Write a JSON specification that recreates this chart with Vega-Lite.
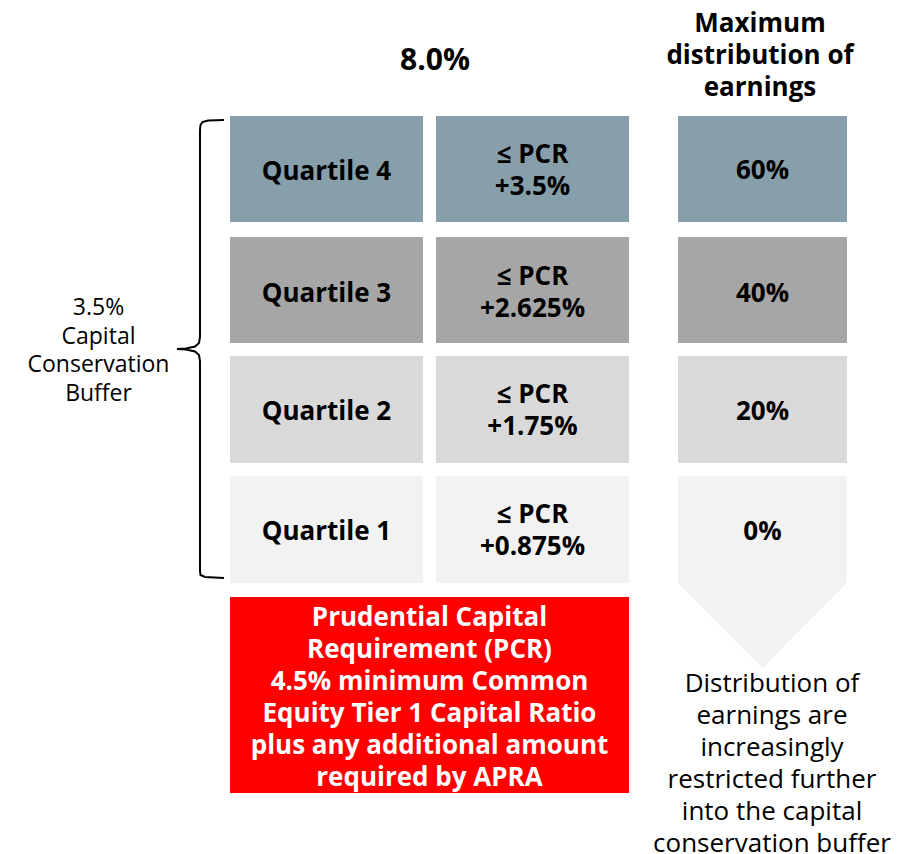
{
  "$schema": "https://vega.github.io/schema/vega-lite/v6.json",
  "width": 908,
  "height": 854,
  "padding": 0,
  "autosize": "none",
  "background": "white",
  "config": {"view": {"stroke": null}},
  "datasets": {
    "boxes": [
      {"tier": "Q4", "x0": 230, "x1": 423, "y0": 116, "y1": 222},
      {"tier": "Q4", "x0": 436, "x1": 629, "y0": 116, "y1": 222},
      {"tier": "Q4", "x0": 678, "x1": 847, "y0": 116, "y1": 222},
      {"tier": "Q3", "x0": 230, "x1": 423, "y0": 237, "y1": 343},
      {"tier": "Q3", "x0": 436, "x1": 629, "y0": 237, "y1": 343},
      {"tier": "Q3", "x0": 678, "x1": 847, "y0": 237, "y1": 343},
      {"tier": "Q2", "x0": 230, "x1": 423, "y0": 356, "y1": 463},
      {"tier": "Q2", "x0": 436, "x1": 629, "y0": 356, "y1": 463},
      {"tier": "Q2", "x0": 678, "x1": 847, "y0": 356, "y1": 463},
      {"tier": "Q1", "x0": 230, "x1": 423, "y0": 476, "y1": 583},
      {"tier": "Q1", "x0": 436, "x1": 629, "y0": 476, "y1": 583},
      {"tier": "PCR", "x0": 230, "x1": 629, "y0": 597, "y1": 793}
    ],
    "arrow": [
      {"x": 678, "top": 476, "bottom": 583},
      {"x": 762.5, "top": 476, "bottom": 668},
      {"x": 847, "top": 476, "bottom": 583}
    ],
    "brace": [
      {"i": 1, "x": 224, "y": 120},
      {"i": 2, "x": 208, "y": 120.5},
      {"i": 3, "x": 202.5, "y": 122},
      {"i": 4, "x": 200.5, "y": 125},
      {"i": 5, "x": 200, "y": 130},
      {"i": 6, "x": 200, "y": 337},
      {"i": 7, "x": 199, "y": 343},
      {"i": 8, "x": 195, "y": 346.5},
      {"i": 9, "x": 186, "y": 348.5},
      {"i": 10, "x": 177, "y": 349},
      {"i": 11, "x": 186, "y": 349.5},
      {"i": 12, "x": 195, "y": 351.5},
      {"i": 13, "x": 199, "y": 355},
      {"i": 14, "x": 200, "y": 361},
      {"i": 15, "x": 200, "y": 571},
      {"i": 16, "x": 200.5, "y": 575},
      {"i": 17, "x": 205, "y": 577},
      {"i": 18, "x": 224, "y": 578}
    ],
    "bigLabels": [
      {"label": "Quartile 4", "x": 326.5, "y": 180},
      {"label": "Quartile 3", "x": 326.5, "y": 302},
      {"label": "Quartile 2", "x": 326.5, "y": 420},
      {"label": "Quartile 1", "x": 326.5, "y": 540},
      {"label": "60%", "x": 762.5, "y": 179},
      {"label": "40%", "x": 762.5, "y": 302},
      {"label": "20%", "x": 762.5, "y": 420},
      {"label": "0%", "x": 762.5, "y": 540}
    ],
    "midLabels": [
      {"label": "≤ PCR\n+3.5%", "x": 532.5, "y": 163},
      {"label": "≤ PCR\n+2.625%", "x": 532.5, "y": 285},
      {"label": "≤ PCR\n+1.75%", "x": 532.5, "y": 403},
      {"label": "≤ PCR\n+0.875%", "x": 532.5, "y": 523},
      {"label": "Maximum\ndistribution of\nearnings", "x": 760, "y": 32}
    ],
    "title": [
      {"label": "8.0%", "x": 435, "y": 70}
    ],
    "redText": [
      {"label": "Prudential Capital\nRequirement (PCR)\n4.5% minimum Common\nEquity Tier 1 Capital Ratio\nplus any additional amount\nrequired by APRA", "x": 429.5, "y": 626}
    ],
    "leftText": [
      {"label": "3.5%\nCapital\nConservation\nBuffer", "x": 98.5, "y": 315}
    ],
    "noteText": [
      {"label": "Distribution of\nearnings are\nincreasingly\nrestricted further\ninto the capital\nconservation buffer", "x": 772, "y": 692}
    ]
  },
  "layer": [
    {
      "data": {"name": "boxes"},
      "mark": {"type": "rect"},
      "encoding": {
        "x": {"field": "x0", "type": "quantitative", "scale": {"domain": [0, 908], "nice": false, "zero": false}, "axis": null},
        "x2": {"field": "x1"},
        "y": {"field": "y0", "type": "quantitative", "scale": {"domain": [0, 854], "reverse": true, "nice": false, "zero": false}, "axis": null},
        "y2": {"field": "y1"},
        "color": {"field": "tier", "type": "nominal", "legend": null,
          "scale": {"domain": ["Q4", "Q3", "Q2", "Q1", "PCR"], "range": ["#879FAB", "#A6A6A6", "#D9D9D9", "#F2F2F2", "#FF0000"]}}
      }
    },
    {
      "data": {"name": "arrow"},
      "mark": {"type": "area", "color": "#F2F2F2", "interpolate": "linear"},
      "encoding": {
        "x": {"field": "x", "type": "quantitative"},
        "y": {"field": "top", "type": "quantitative"},
        "y2": {"field": "bottom"}
      }
    },
    {
      "data": {"name": "brace"},
      "mark": {"type": "line", "color": "#000000", "strokeWidth": 2, "interpolate": "linear"},
      "encoding": {
        "x": {"field": "x", "type": "quantitative"},
        "y": {"field": "y", "type": "quantitative"},
        "order": {"field": "i", "type": "quantitative"}
      }
    },
    {
      "data": {"name": "bigLabels"},
      "mark": {"type": "text", "font": "Open Sans", "fontWeight": "bold", "fontSize": 26, "align": "center", "baseline": "alphabetic", "color": "#000000"},
      "encoding": {
        "x": {"field": "x", "type": "quantitative"},
        "y": {"field": "y", "type": "quantitative"},
        "text": {"field": "label"}
      }
    },
    {
      "data": {"name": "midLabels"},
      "mark": {"type": "text", "font": "Open Sans", "fontWeight": "bold", "fontSize": 26, "align": "center", "baseline": "alphabetic", "lineBreak": "\n", "lineHeight": 32, "color": "#000000"},
      "encoding": {
        "x": {"field": "x", "type": "quantitative"},
        "y": {"field": "y", "type": "quantitative"},
        "text": {"field": "label"}
      }
    },
    {
      "data": {"name": "title"},
      "mark": {"type": "text", "font": "Open Sans", "fontWeight": "bold", "fontSize": 30, "align": "center", "baseline": "alphabetic", "color": "#000000"},
      "encoding": {
        "x": {"field": "x", "type": "quantitative"},
        "y": {"field": "y", "type": "quantitative"},
        "text": {"field": "label"}
      }
    },
    {
      "data": {"name": "redText"},
      "mark": {"type": "text", "font": "Open Sans", "fontWeight": "bold", "fontSize": 26, "align": "center", "baseline": "alphabetic", "lineBreak": "\n", "lineHeight": 32, "color": "#FFFFFF"},
      "encoding": {
        "x": {"field": "x", "type": "quantitative"},
        "y": {"field": "y", "type": "quantitative"},
        "text": {"field": "label"}
      }
    },
    {
      "data": {"name": "leftText"},
      "mark": {"type": "text", "font": "Open Sans", "fontSize": 23, "align": "center", "baseline": "alphabetic", "lineBreak": "\n", "lineHeight": 28.5, "color": "#000000"},
      "encoding": {
        "x": {"field": "x", "type": "quantitative"},
        "y": {"field": "y", "type": "quantitative"},
        "text": {"field": "label"}
      }
    },
    {
      "data": {"name": "noteText"},
      "mark": {"type": "text", "font": "Open Sans", "fontSize": 26, "align": "center", "baseline": "alphabetic", "lineBreak": "\n", "lineHeight": 32, "color": "#000000"},
      "encoding": {
        "x": {"field": "x", "type": "quantitative"},
        "y": {"field": "y", "type": "quantitative"},
        "text": {"field": "label"}
      }
    }
  ]
}
